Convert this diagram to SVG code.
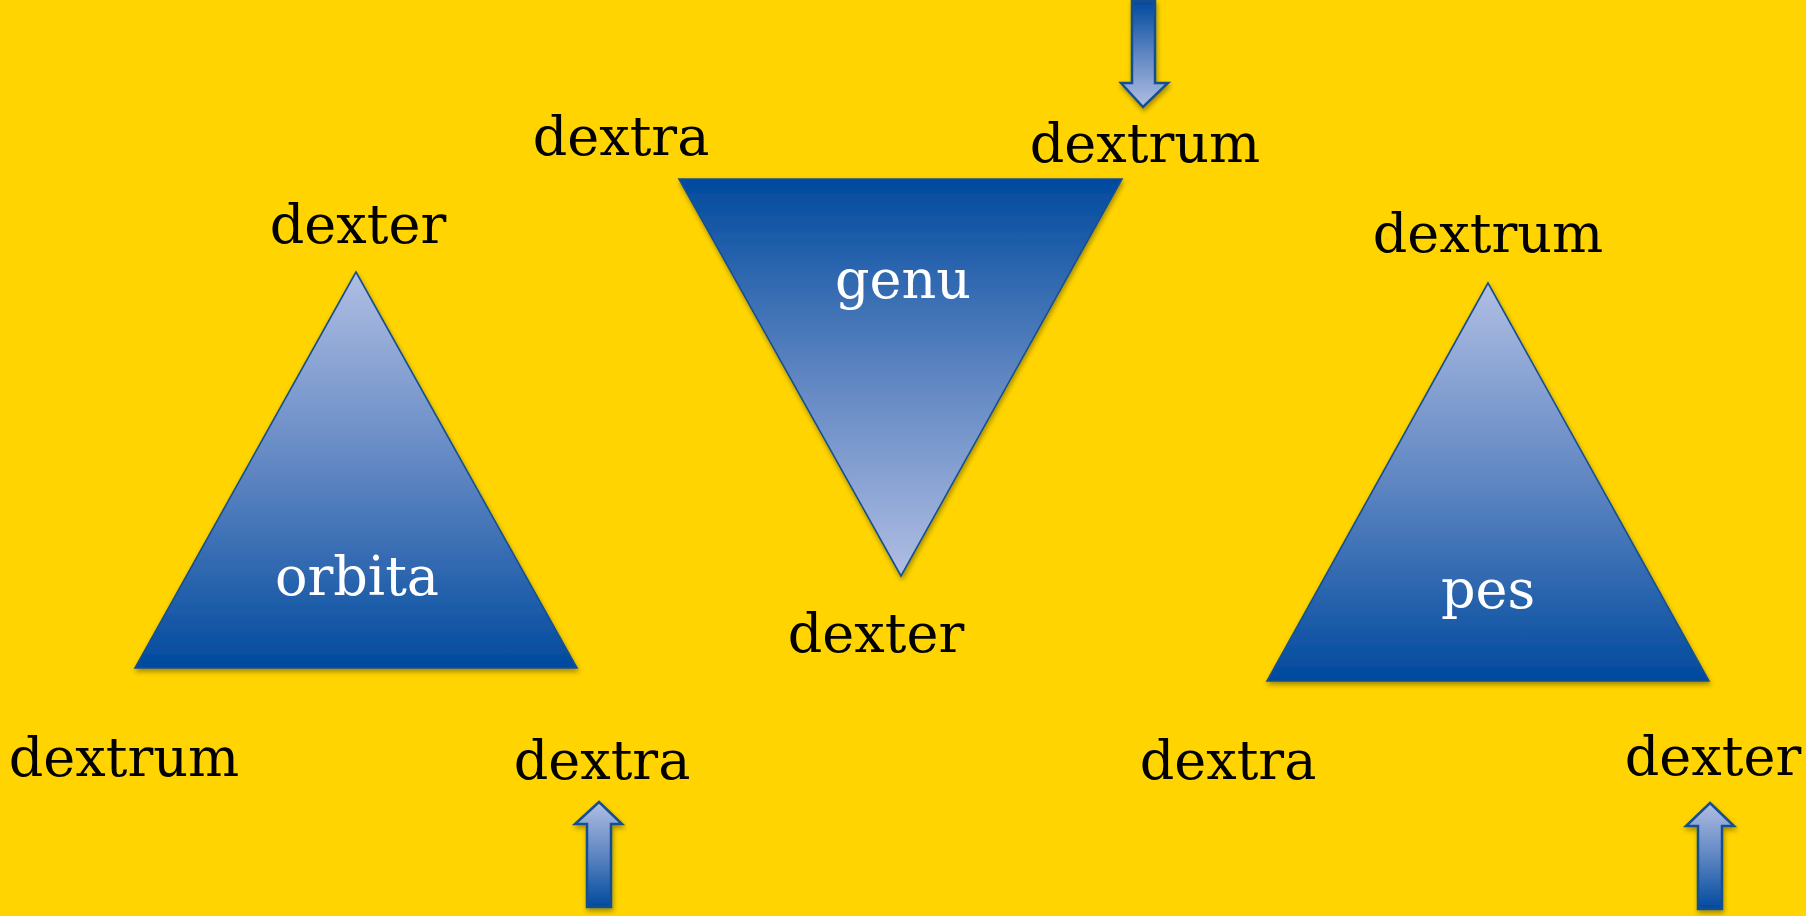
<svg xmlns="http://www.w3.org/2000/svg" width="1806" height="916" viewBox="0 0 1806 916">
<defs>
<linearGradient id="gUp" x1="0" y1="0" x2="0" y2="1">
<stop offset="0" stop-color="#B0BEE3"/>
<stop offset="0.5" stop-color="#5F86C2"/>
<stop offset="1" stop-color="#004A9E"/>
</linearGradient>
<linearGradient id="gDown" x1="0" y1="0" x2="0" y2="1">
<stop offset="0" stop-color="#004A9E"/>
<stop offset="0.5" stop-color="#5F86C2"/>
<stop offset="1" stop-color="#B0BEE3"/>
</linearGradient>
<filter id="sh" x="-10%" y="-10%" width="120%" height="120%">
<feDropShadow dx="1" dy="3" stdDeviation="2.5" flood-color="#000" flood-opacity="0.35"/>
</filter>
<style>
.tri{stroke:#17508F;stroke-width:1.6;stroke-linejoin:miter;filter:url(#sh)}
.arr{stroke:#14508F;stroke-width:2.5;stroke-linejoin:miter;filter:url(#sh)}
.lbl{font-family:"DejaVu Serif","Liberation Serif",serif;font-size:54px;fill:#000;text-anchor:middle}
.in{font-family:"DejaVu Serif","Liberation Serif",serif;font-size:54px;fill:#fff;text-anchor:middle}
</style>
</defs>
<rect width="1806" height="916" fill="#FFD400"/>
<g id="orbita">
<polygon class="tri" points="356,272 577,668 135,668" fill="url(#gUp)"/>
<text class="in" x="357" y="595">orbita</text>
</g>
<g id="genu">
<polygon class="tri" points="679,179 1122,179 901,576" fill="url(#gDown)"/>
<text class="in" x="903" y="298">genu</text>
</g>
<g id="pes">
<polygon class="tri" points="1488,283 1709,681 1267,681" fill="url(#gUp)"/>
<text class="in" x="1488" y="608">pes</text>
</g>
<g id="labels">
<text class="lbl" x="621" y="155">dextra</text>
<text class="lbl" x="1145" y="162">dextrum</text>
<text class="lbl" x="358" y="243">dexter</text>
<text class="lbl" x="1488" y="252">dextrum</text>
<text class="lbl" x="876" y="652">dexter</text>
<text class="lbl" x="124" y="776">dextrum</text>
<text class="lbl" x="602" y="779">dextra</text>
<text class="lbl" x="1228" y="779">dextra</text>
<text class="lbl" x="1713" y="775">dexter</text>
</g>
<g id="connectors">
<polygon class="arr" points="1132,1 1155,1 1155,83 1168,83 1143,107 1121,83 1132,83" fill="url(#gDown)"/>
<polygon class="arr" points="599,802 622,824 611,824 611,907 587,907 587,824 575,824" fill="url(#gUp)"/>
<polygon class="arr" points="1710,803 1734,826 1722,826 1722,909 1698,909 1698,826 1686,826" fill="url(#gUp)"/>
</g>
</svg>
